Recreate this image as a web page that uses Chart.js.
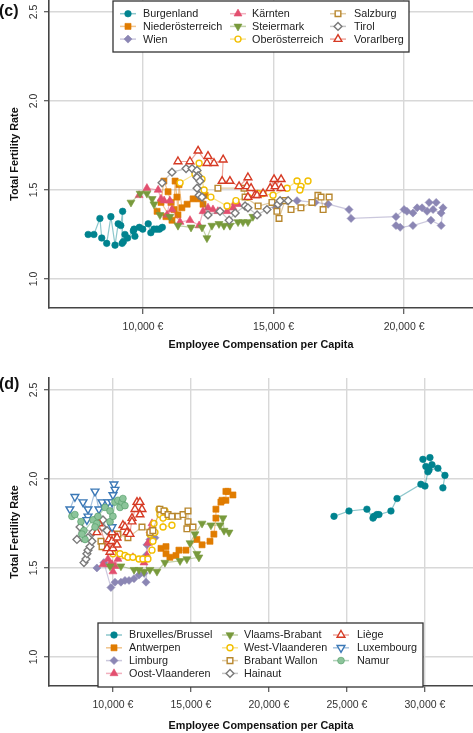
<!DOCTYPE html>
<html>
<head>
<meta charset="utf-8">
<script src="https://cdn.jsdelivr.net/npm/chart.js@4.4.1/dist/chart.umd.min.js"></script>
<style>
  body { margin: 0; background: #fff; }
  #chartC { position: absolute; left: 0; top: 0; }
  #chartD { position: absolute; left: 0; top: 360px; }
</style>
</head>
<body>
<canvas id="chartC" width="473" height="360"></canvas>
<canvas id="chartD" width="473" height="373"></canvas>
<script>
// tick values
const yTicks = [1.0, 1.5, 2.0, 2.5];
const xTicksAT = [10000, 15000, 20000];
const xTicksBE = [10000, 15000, 20000, 25000, 30000];

// region names (legend order is column-major)
const namesAT = ['Burgenland', 'Niederösterreich', 'Wien', 'Kärnten', 'Steiermark',
  'Oberösterreich', 'Salzburg', 'Tirol', 'Vorarlberg'];
const namesBE = ['Bruxelles/Brussel', 'Antwerpen', 'Limburg', 'Oost-Vlaanderen', 'Vlaams-Brabant',
  'West-Vlaanderen', 'Brabant Wallon', 'Hainaut', 'Liège', 'Luxembourg', 'Namur'];

// ---- Austria: compensation per capita (€) and total fertility rate
const burgenlandComp = [7900, 8120, 8350, 8420, 8610, 8770, 8930, 9050, 9150, 9220, 9200, 9250, 9310, 9410, 9630, 9690, 9660, 9860, 9990, 10200, 10300, 10420, 10530, 10630, 10740];
const burgenlandTfr = [1.25, 1.25, 1.34, 1.23, 1.20, 1.35, 1.19, 1.31, 1.30, 1.38, 1.20, 1.21, 1.25, 1.23, 1.27, 1.24, 1.28, 1.29, 1.28, 1.31, 1.26, 1.28, 1.28, 1.28, 1.29];

const niederComp = [10540, 10880, 11110, 10690, 10800, 10960, 11070, 11190, 11230, 11300, 11340, 11380, 11490, 11690, 11920, 12150, 12300, 12380];
const niederTfr = [1.38, 1.35, 1.33, 1.43, 1.55, 1.49, 1.43, 1.39, 1.55, 1.46, 1.36, 1.53, 1.40, 1.42, 1.45, 1.45, 1.42, 1.47];

const wienComp = [15100, 15250, 15520, 15900, 16590, 17090, 17890, 17970, 19690, 20000, 20110, 20340, 20500, 20690, 20880, 20960, 21230, 21110, 21420, 21490, 21420, 21030, 20340, 19850, 19690];
const wienTfr = [1.40, 1.43, 1.44, 1.44, 1.43, 1.42, 1.39, 1.34, 1.35, 1.39, 1.38, 1.37, 1.40, 1.40, 1.38, 1.43, 1.43, 1.39, 1.37, 1.40, 1.30, 1.33, 1.30, 1.29, 1.30];

const kaerntenComp = [9850, 10150, 10580, 10690, 10810, 11030, 10920, 11110, 11420, 11800, 12150, 12300, 12490, 12680, 12870, 13220, 13450, 13530, 13640];
const kaerntenTfr = [1.47, 1.51, 1.50, 1.45, 1.44, 1.44, 1.36, 1.39, 1.32, 1.33, 1.30, 1.38, 1.40, 1.39, 1.38, 1.38, 1.40, 1.43, 1.42];

const steiermarkComp = [9540, 9890, 10150, 10350, 10420, 10650, 11030, 11340, 11840, 12260, 12450, 12640, 12910, 13100, 13330, 13640, 13830, 14020, 14210];
const steiermarkTfr = [1.43, 1.48, 1.48, 1.45, 1.42, 1.36, 1.35, 1.30, 1.29, 1.29, 1.23, 1.30, 1.31, 1.30, 1.30, 1.32, 1.32, 1.32, 1.35];

const oberComp = [11420, 11990, 12150, 12260, 12340, 12600, 13220, 13560, 14020, 14410, 14600, 14980, 15520, 15900, 16050, 16010, 16320];
const oberTfr = [1.54, 1.59, 1.65, 1.56, 1.50, 1.46, 1.41, 1.44, 1.46, 1.48, 1.48, 1.47, 1.51, 1.55, 1.52, 1.50, 1.55];

const salzburgComp = [12870, 13870, 13910, 14410, 14940, 15130, 15210, 15440, 15670, 16050, 16470, 16700, 16820, 16900, 17130];
const salzburgTfr = [1.51, 1.51, 1.46, 1.41, 1.43, 1.38, 1.34, 1.44, 1.39, 1.40, 1.43, 1.47, 1.46, 1.39, 1.46];

const tirolComp = [10730, 11110, 11650, 11880, 12070, 12110, 12070, 12180, 12070, 12150, 12260, 12490, 12950, 13300, 13530, 13910, 14020, 14370, 14750, 15170, 15250, 15560];
const tirolTfr = [1.54, 1.60, 1.62, 1.62, 1.61, 1.58, 1.57, 1.55, 1.51, 1.47, 1.46, 1.36, 1.38, 1.33, 1.37, 1.41, 1.40, 1.36, 1.39, 1.42, 1.44, 1.44];

const vorarlbergComp = [11340, 11800, 12110, 12450, 12490, 12720, 13070, 13030, 13330, 13680, 14020, 13980, 14140, 14290, 14020, 14370, 14600, 14870, 15020, 15290, 15060, 15290];
const vorarlbergTfr = [1.66, 1.66, 1.72, 1.65, 1.69, 1.65, 1.67, 1.55, 1.55, 1.52, 1.57, 1.52, 1.51, 1.47, 1.46, 1.47, 1.48, 1.51, 1.56, 1.56, 1.52, 1.51];

// ---- Belgium
const bruxellesComp = [24170, 25130, 26280, 26670, 26730, 26920, 27050, 27820, 28210, 29740, 30000, 30190, 30060, 29870, 30320, 30450, 30260, 30830, 31280, 31150];
const bruxellesTfr = [1.79, 1.82, 1.83, 1.78, 1.79, 1.80, 1.80, 1.82, 1.89, 1.97, 1.96, 2.04, 2.07, 2.11, 2.12, 2.08, 2.05, 2.06, 2.02, 1.95];

const antwerpenComp = [13080, 13400, 13400, 13650, 14040, 14230, 14680, 15380, 15710, 16220, 16470, 16600, 16600, 16920, 16990, 17240, 17240, 17370, 17690];
const antwerpenTfr = [1.61, 1.62, 1.58, 1.56, 1.57, 1.60, 1.60, 1.66, 1.63, 1.65, 1.69, 1.78, 1.83, 1.87, 1.88, 1.88, 1.93, 1.93, 1.91];

const limburgComp = [8970, 9420, 9870, 10130, 10510, 10770, 11030, 11350, 11670, 11990, 12120, 12120, 12180, 12370, 12690];
const limburgTfr = [1.50, 1.53, 1.39, 1.42, 1.42, 1.43, 1.43, 1.44, 1.46, 1.47, 1.42, 1.57, 1.63, 1.66, 1.67];

const oostVlComp = [9360, 9680, 9810, 9940, 10000, 10130, 10320, 11280, 11990, 12180, 12240, 12370, 12500];
const oostVlTfr = [1.52, 1.55, 1.52, 1.52, 1.48, 1.51, 1.55, 1.56, 1.53, 1.57, 1.64, 1.71, 1.75];

const vlBrabantComp = [9810, 10510, 11350, 11670, 11990, 12370, 12820, 13330, 14300, 14740, 15510, 15380, 14940, 15260, 15710, 16280, 16860, 17050, 17120, 17440];
const vlBrabantTfr = [1.51, 1.51, 1.49, 1.49, 1.48, 1.49, 1.48, 1.53, 1.54, 1.55, 1.56, 1.58, 1.64, 1.69, 1.75, 1.74, 1.74, 1.78, 1.71, 1.70];

const westVlComp = [10000, 10450, 10770, 10960, 11280, 11670, 11920, 12240, 12500, 12560, 12370, 12690, 12630, 13010, 12950, 13330, 13530, 13210, 13210, 13780];
const westVlTfr = [1.58, 1.58, 1.57, 1.56, 1.56, 1.55, 1.55, 1.55, 1.60, 1.65, 1.69, 1.70, 1.75, 1.80, 1.83, 1.82, 1.79, 1.78, 1.73, 1.74];

const brWallonComp = [9230, 9300, 9940, 10320, 10960, 11860, 12370, 12560, 13010, 13270, 13530, 13780, 14170, 14490, 14810, 14810, 14740, 15130];
const brWallonTfr = [1.65, 1.62, 1.67, 1.69, 1.67, 1.73, 1.70, 1.71, 1.83, 1.82, 1.80, 1.79, 1.79, 1.80, 1.82, 1.76, 1.72, 1.73];

const hainautComp = [8140, 8270, 8330, 8400, 8530, 8650, 8400, 8010, 7690, 7890, 8720, 8970, 9300, 9360, 9620];
const hainautTfr = [1.53, 1.55, 1.58, 1.60, 1.62, 1.65, 1.67, 1.67, 1.66, 1.73, 1.70, 1.78, 1.73, 1.77, 1.71];

const liegeComp = [8970, 9100, 9620, 9740, 9810, 9940, 9940, 10000, 10260, 10260, 10640, 10770, 10900, 11090, 11220, 11220, 11410, 11540, 11730, 11860, 11730];
const liegeTfr = [1.70, 1.75, 1.61, 1.66, 1.59, 1.70, 1.65, 1.61, 1.63, 1.67, 1.74, 1.73, 1.70, 1.69, 1.78, 1.76, 1.83, 1.87, 1.87, 1.83, 1.80];

const luxComp = [7240, 7560, 8080, 8400, 8400, 8330, 8850, 9100, 9300, 9680, 9940, 10060, 10130, 10000, 9940];
const luxTfr = [1.83, 1.90, 1.87, 1.83, 1.79, 1.77, 1.93, 1.83, 1.87, 1.87, 1.87, 1.97, 1.94, 1.91, 1.73];

const namurComp = [7370, 7560, 7950, 8140, 8210, 8010, 8720, 8970, 8850, 9040, 9490, 9810, 9810, 10000, 10130, 10320, 10450, 10580, 10640, 10770];
const namurTfr = [1.79, 1.80, 1.76, 1.71, 1.66, 1.69, 1.77, 1.75, 1.73, 1.79, 1.84, 1.82, 1.76, 1.79, 1.87, 1.88, 1.84, 1.87, 1.89, 1.85];

const compAT = [burgenlandComp, niederComp, wienComp, kaerntenComp, steiermarkComp, oberComp, salzburgComp, tirolComp, vorarlbergComp];
const tfrAT = [burgenlandTfr, niederTfr, wienTfr, kaerntenTfr, steiermarkTfr, oberTfr, salzburgTfr, tirolTfr, vorarlbergTfr];
const compBE = [bruxellesComp, antwerpenComp, limburgComp, oostVlComp, vlBrabantComp, westVlComp, brWallonComp, hainautComp, liegeComp, luxComp, namurComp];
const tfrBE = [bruxellesTfr, antwerpenTfr, limburgTfr, oostVlTfr, vlBrabantTfr, westVlTfr, brWallonTfr, hainautTfr, liegeTfr, luxTfr, namurTfr];

// marker look per series position
const markerStyles = [
  { color: '#00838f', shape: 'circle', fill: '#00838f', r: 3.3 },
  { color: '#e07c00', shape: 'rect', fill: '#e07c00', r: 4.3 },
  { color: '#8b86b4', shape: 'diamond', fill: '#8b86b4', r: 4.0 },
  { color: '#e34f6f', shape: 'triangle', fill: '#e34f6f', r: 4.6 },
  { color: '#789a3c', shape: 'triangleDown', fill: '#789a3c', r: 4.6 },
  { color: '#f2bf00', shape: 'circle', fill: '#ffffff', r: 3.0 },
  { color: '#b8872e', shape: 'rect', fill: '#ffffff', r: 4.0 },
  { color: '#7a7a7a', shape: 'diamond', fill: '#ffffff', r: 3.9 },
  { color: '#d63a24', shape: 'triangle', fill: '#ffffff', r: 4.5 },
  { color: '#3b78b6', shape: 'triangleDown', fill: '#ffffff', r: 4.5 },
  { color: '#4f9a64', shape: 'circle', fill: '#8cc49a', r: 3.4 }
];
const chartShape = { circle: 'circle', rect: 'rect', diamond: 'rectRot', triangle: 'triangle', triangleDown: 'triangle' };

function fade(hex, a) {
  const n = parseInt(hex.slice(1), 16);
  return 'rgba(' + (n >> 16) + ',' + ((n >> 8) & 255) + ',' + (n & 255) + ',' + a + ')';
}

function makeDatasets(names, comps, tfrs) {
  return names.map((name, i) => {
    const st = markerStyles[i];
    const open = st.fill === '#ffffff';
    return {
      label: name,
      data: comps[i].map((x, j) => ({ x: x, y: tfrs[i][j] })),
      showLine: true,
      tension: 0,
      borderColor: fade(st.color, 0.45),
      borderWidth: 1.2,
      pointStyle: chartShape[st.shape],
      pointRotation: st.shape === 'triangleDown' ? 180 : 0,
      pointRadius: st.r,
      pointHoverRadius: st.r,
      pointBackgroundColor: st.fill,
      pointBorderColor: st.color,
      pointBorderWidth: open ? 1.4 : 0.6,
      order: -i
    };
  });
}

function markerPath(ctx, shape, x, y, r) {
  ctx.beginPath();
  if (shape === 'circle') {
    ctx.arc(x, y, r, 0, Math.PI * 2);
  } else if (shape === 'rect') {
    const s = r * Math.SQRT1_2;
    ctx.rect(x - s, y - s, 2 * s, 2 * s);
  } else if (shape === 'diamond') {
    ctx.moveTo(x, y - r); ctx.lineTo(x + r, y); ctx.lineTo(x, y + r); ctx.lineTo(x - r, y);
    ctx.closePath();
  } else {
    const d = shape === 'triangle' ? 1 : -1;
    ctx.moveTo(x, y - d * r);
    ctx.lineTo(x + 0.866 * r, y + d * 0.5 * r);
    ctx.lineTo(x - 0.866 * r, y + d * 0.5 * r);
    ctx.closePath();
  }
}

const FONT = '"Liberation Sans", Arial, sans-serif';

function panelPlugin(cfg) {
  return {
    id: 'panel' + cfg.tag,
    afterDraw(chart) {
      const ctx = chart.ctx;
      const ys = chart.scales.y;
      ctx.save();
      // rotated y tick labels
      ctx.fillStyle = '#333';
      ctx.font = '10.5px ' + FONT;
      ctx.textAlign = 'center';
      ctx.textBaseline = 'middle';
      yTicks.forEach(v => {
        const py = ys.getPixelForValue(v);
        ctx.save();
        ctx.translate(34.5, py);
        ctx.rotate(-Math.PI / 2);
        ctx.fillText(v.toFixed(1), 0, 0);
        ctx.restore();
      });
      // panel tag
      ctx.fillStyle = '#111';
      ctx.font = 'bold 16px ' + FONT;
      ctx.textAlign = 'left';
      ctx.fillText('(' + cfg.tag + ')', -1, cfg.tagY);
      // legend box
      const b = cfg.box;
      ctx.fillStyle = '#fff';
      ctx.fillRect(b[0], b[1], b[2] - b[0], b[3] - b[1]);
      ctx.strokeStyle = '#333';
      ctx.lineWidth = 1.3;
      ctx.strokeRect(b[0], b[1], b[2] - b[0], b[3] - b[1]);
      ctx.font = '10.8px ' + FONT;
      ctx.textBaseline = 'middle';
      cfg.names.forEach((name, i) => {
        const col = Math.floor(i / cfg.rows);
        const row = i % cfg.rows;
        const mx = cfg.markX[col];
        const my = cfg.rowY0 + row * cfg.rowStep;
        const st = markerStyles[i];
        ctx.strokeStyle = fade(st.color, 0.45);
        ctx.lineWidth = 1.5;
        ctx.beginPath();
        ctx.moveTo(mx - 8, my); ctx.lineTo(mx + 8, my);
        ctx.stroke();
        markerPath(ctx, st.shape, mx, my, st.r);
        ctx.fillStyle = st.fill;
        ctx.fill();
        ctx.strokeStyle = st.color;
        ctx.lineWidth = st.fill === '#ffffff' ? 1.4 : 0.6;
        ctx.stroke();
        ctx.fillStyle = '#222';
        ctx.fillText(name, cfg.textX[col], my + 0.5);
      });
      ctx.restore();
    }
  };
}

function makeChart(id, names, comps, tfrs, xTicks, xMin, xMax, padTop, xHeight, titlePad, plugin) {
  return new Chart(document.getElementById(id), {
    type: 'scatter',
    data: { datasets: makeDatasets(names, comps, tfrs) },
    options: {
      responsive: false,
      animation: false,
      layout: { autoPadding: false, padding: { top: padTop, left: 0, right: 0, bottom: 0 } },
      plugins: { legend: { display: false }, tooltip: { enabled: false } },
      scales: {
        x: {
          type: 'linear',
          min: xMin, max: xMax,
          afterBuildTicks: s => { s.ticks = xTicks.map(v => ({ value: v })); },
          afterFit: s => { s.height = xHeight; },
          ticks: {
            autoSkip: false, maxRotation: 0, padding: 7,
            color: '#333', font: { family: FONT, size: 10.5 },
            callback: v => v.toLocaleString('en-US') + ' €'
          },
          grid: { color: '#d8d8d8', lineWidth: 1.4, tickLength: 6, tickColor: '#555', tickWidth: 1.2 },
          border: { display: true, color: '#444', width: 1.6 },
          title: {
            display: true, text: 'Employee Compensation per Capita', color: '#111',
            font: { family: FONT, size: 10.8, weight: 'bold' },
            padding: { top: 0, bottom: titlePad }
          }
        },
        y: {
          type: 'linear',
          min: 0.837, max: 2.567,
          afterBuildTicks: s => { s.ticks = yTicks.map(v => ({ value: v })); },
          afterFit: s => { s.width = 49; },
          ticks: { display: false },
          grid: { color: '#d8d8d8', lineWidth: 1.4, tickLength: 5, tickColor: '#555', tickWidth: 1.2 },
          border: { display: true, color: '#444', width: 1.6 },
          title: {
            display: true, text: 'Total Fertility Rate', color: '#111',
            font: { family: FONT, size: 10.8, weight: 'bold' },
            padding: { top: 9, bottom: 0 }
          }
        }
      }
    },
    plugins: [plugin]
  });
}

makeChart('chartC', namesAT, compAT, tfrAT, xTicksAT, 6400, 22640, 0, 52, 8.5,
  panelPlugin({ tag: 'c', tagY: 12, names: namesAT, rows: 3, box: [113, 1, 409, 52],
    markX: [128, 238, 338], textX: [143, 252, 354], rowY0: 13.7, rowStep: 12.7 }));

makeChart('chartD', namesBE, compBE, tfrBE, xTicksBE, 5900, 33080, 18, 47, 0.5,
  panelPlugin({ tag: 'd', tagY: 25, names: namesBE, rows: 4, box: [98, 263, 423, 327],
    markX: [114, 230, 341], textX: [129, 244, 357], rowY0: 275, rowStep: 12.8 }));
</script>
</body>
</html>
